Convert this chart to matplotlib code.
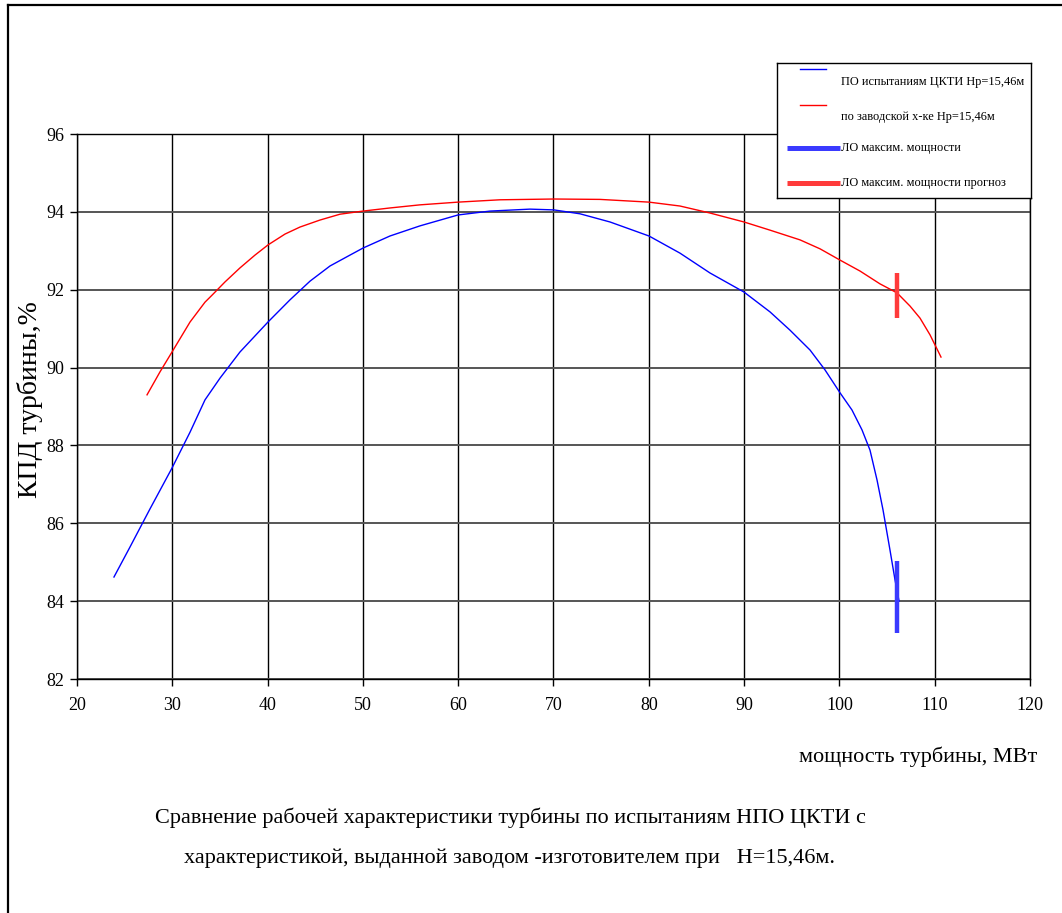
import matplotlib
matplotlib.use("Agg")
import matplotlib.pyplot as plt
from matplotlib.lines import Line2D

plt.rcParams['font.family'] = ['Liberation Serif', 'DejaVu Serif']

# Test curve (НПО ЦКТИ)
test_power = [23.88, 25.56, 27.66, 29.97, 31.86, 33.43, 35.01, 37.10, 40.04, 42.35,
              44.45, 46.55, 48.65, 50.01, 52.84, 55.99, 59.98, 63.34, 67.53, 70.05,
              72.78, 75.93, 80.02, 83.27, 86.42, 89.99, 92.72, 94.82, 96.92, 98.49,
              100.07, 101.32, 102.37, 103.21, 103.95, 104.58, 105.31, 105.84, 106.26]
test_eff = [84.62, 85.39, 86.37, 87.42, 88.34, 89.17, 89.73, 90.40, 91.17, 91.74,
            92.22, 92.61, 92.89, 93.07, 93.38, 93.64, 93.92, 94.02, 94.07, 94.05,
            93.95, 93.74, 93.38, 92.94, 92.43, 91.94, 91.43, 90.96, 90.45, 89.94,
            89.35, 88.91, 88.40, 87.88, 87.11, 86.34, 85.31, 84.54, 84.00]

# Factory curve
fac_power = [27.35, 28.71, 29.97, 31.86, 33.43, 34.17, 35.53, 37.10, 38.68, 40.04,
             41.83, 43.40, 45.50, 47.60, 50.01, 52.84, 55.99, 59.98, 64.39, 70.05,
             74.88, 80.02, 83.27, 86.42, 89.99, 92.72, 95.87, 97.97, 100.07, 102.16,
             104.26, 106.04, 107.41, 108.46, 109.51, 110.66]
fac_eff = [89.30, 89.89, 90.40, 91.17, 91.68, 91.86, 92.20, 92.56, 92.89, 93.15,
           93.43, 93.61, 93.79, 93.94, 94.02, 94.10, 94.18, 94.25, 94.31, 94.33,
           94.32, 94.25, 94.15, 93.97, 93.74, 93.53, 93.28, 93.05, 92.76, 92.48,
           92.15, 91.92, 91.58, 91.27, 90.84, 90.27]

# Max power limit markers (x, y_low, y_high)
lim_test = [106.0, 83.18, 85.03]
lim_fac = [106.0, 91.27, 92.43]

xticks = [20, 30, 40, 50, 60, 70, 80, 90, 100, 110, 120]
yticks = [82, 84, 86, 88, 90, 92, 94, 96]

legend_labels = ["ПО испытаниям ЦКТИ Нр=15,46м",
                 "по заводской х-ке Нр=15,46м",
                 "ЛО максим. мощности",
                 "ЛО максим. мощности прогноз"]

W, H = 1062, 913
fig = plt.figure(figsize=(W / 100, H / 100), dpi=100)

def fx(px):
    return px / W

def fy(py):
    return 1 - py / H

ax = fig.add_axes([fx(77), fy(679), fx(1030) - fx(77), fy(134) - fy(679)])
ax.set_xlim(20, 120)
ax.set_ylim(82, 96)
ax.set_xticks(xticks)
ax.set_yticks(yticks)
ax.tick_params(direction='out', length=5, width=1, labelsize=13, pad=4, color='black')
ax.tick_params(axis='x', pad=8)
for v in xticks:
    ax.axvline(v, color='black', lw=1.0, zorder=1)
for v in yticks:
    ax.axhline(v, color='#555555', lw=1.4, zorder=1)
for s in ax.spines.values():
    s.set_color('black')
    s.set_linewidth(1.0)

ax.plot(test_power, test_eff, color='#0000ff', lw=1.0, zorder=3)
ax.plot(fac_power, fac_eff, color='#ff0000', lw=1.0, zorder=3)
ax.plot([lim_test[0], lim_test[0]], [lim_test[1], lim_test[2]], color='#3a3aff', lw=3.2,
        solid_capstyle='butt', zorder=4)
ax.plot([lim_fac[0], lim_fac[0]], [lim_fac[1], lim_fac[2]], color='#ff3b3b', lw=3.2,
        solid_capstyle='butt', zorder=4)

fig.text(fx(30), fy(400), "КПД турбины,%", rotation=90, ha='center', va='center', fontsize=20)
fig.text(fx(1037), fy(757), "мощность турбины, МВт", ha='right', va='center', fontsize=16)

fig.text(fx(510), fy(818), "Сравнение рабочей характеристики турбины по испытаниям НПО ЦКТИ с",
         ha='center', va='center', fontsize=16)
fig.text(fx(510), fy(858), "характеристикой, выданной заводом -изготовителем при   Н=15,46м.",
         ha='center', va='center', fontsize=16)

# Legend box
lax = fig.add_axes([fx(777), fy(198), fx(1031) - fx(777), fy(63) - fy(198)])
lax.set_xlim(0, 1)
lax.set_ylim(0, 1)
lax.set_xticks([])
lax.set_yticks([])
lax.set_facecolor('white')
for s in lax.spines.values():
    s.set_color('black')
    s.set_linewidth(1.0)
lfs = 8.9
lax.plot([0.091, 0.193], [0.956, 0.956], color='#0000ff', lw=1.0)
lax.text(0.252, 0.859, legend_labels[0], fontsize=lfs, va='center', ha='left')
lax.plot([0.091, 0.193], [0.689, 0.689], color='#ff0000', lw=1.0)
lax.text(0.252, 0.60, legend_labels[1], fontsize=lfs, va='center', ha='left')
lax.plot([0.039, 0.247], [0.370, 0.370], color='#3a3aff', lw=3.6, solid_capstyle='butt')
lax.text(0.252, 0.370, legend_labels[2], fontsize=lfs, va='center', ha='left')
lax.plot([0.039, 0.247], [0.111, 0.111], color='#ff3b3b', lw=3.6, solid_capstyle='butt')
lax.text(0.252, 0.111, legend_labels[3], fontsize=lfs, va='center', ha='left')

# Figure frame (left and top)
fig.add_artist(Line2D([fx(7.5), fx(7.5)], [0, fy(5)], color='black', lw=1.6, transform=fig.transFigure))
fig.add_artist(Line2D([fx(7.5), 1], [fy(5), fy(5)], color='black', lw=1.6, transform=fig.transFigure))

fig.savefig("out.png", dpi=100, facecolor='white')
